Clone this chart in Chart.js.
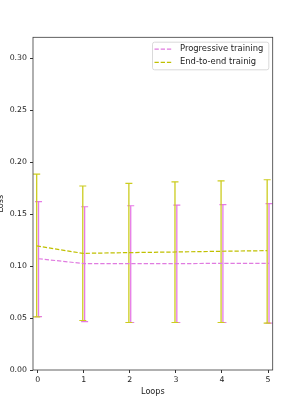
<!DOCTYPE html>
<html>
<head>
<meta charset="utf-8">
<script src="https://cdn.jsdelivr.net/npm/chart.js@4.4.1/dist/chart.umd.min.js"></script>
<style>
  html, body { margin: 0; padding: 0; background: #fff; }
  #wrap { width: 293px; height: 416px; }
</style>
</head>
<body>
<div id="wrap"><canvas id="chart" width="293" height="416"></canvas></div>
<script>
// ---------------- Data ----------------
const loops = [0, 1, 2, 3, 4, 5];
const progMean = [0.107, 0.1023, 0.1023, 0.1023, 0.1026, 0.1026];
const progLow  = [0.0514, 0.0466, 0.0457, 0.0457, 0.0457, 0.0451];
const progHigh = [0.162, 0.157, 0.158, 0.1586, 0.159, 0.160];
const e2eMean  = [0.1193, 0.1122, 0.1129, 0.1135, 0.1142, 0.1148];
const e2eLow   = [0.0511, 0.0476, 0.0457, 0.0457, 0.0457, 0.0451];
const e2eHigh  = [0.1884, 0.177, 0.1795, 0.181, 0.182, 0.183];
const yTicks = [0, 0.05, 0.1, 0.15, 0.2, 0.25, 0.3];
const seriesNames = ["Progressive training", "End-to-end trainig"];

const PINK = "#e07be0";
const PINK_BAR = "#e679e6";
const YEL = "#c0c000";
const YEL_BAR = "#cccc1e";
const FONT = "DejaVu Sans";
const FS = 7.8;       // tick labels
const FS_LABEL = 8.1; // axis titles
const FS_LEG = 8.4;   // legend

// each bar: low point, high point, then a gap
function errorBars(low, high, dx) {
  const pts = [];
  loops.forEach((x, i) => {
    pts.push({ x: x + dx, y: low[i] }, { x: x + dx, y: high[i] }, { x: x + dx, y: null });
  });
  return pts;
}

function meanLine(mean, dx) {
  return loops.map((x, i) => ({ x: x + dx, y: mean[i] }));
}

// ---------------- Frame, legend, axis titles ----------------
const decor = {
  id: "decor",
  afterDraw(chart) {
    const { ctx, chartArea: a } = chart;
    ctx.save();
    // frame
    ctx.strokeStyle = "#3a3a3a";
    ctx.lineWidth = 0.8;
    ctx.strokeRect(a.left, a.top, a.right - a.left, a.bottom - a.top);

    // legend box
    const bx = 152.5, by = 42.2, bw = 116.3, bh = 27.6;
    ctx.fillStyle = "rgba(255,255,255,0.8)";
    ctx.strokeStyle = "#d0d0d0";
    ctx.lineWidth = 0.8;
    ctx.beginPath();
    ctx.roundRect(bx, by, bw, bh, 2);
    ctx.fill();
    ctx.stroke();

    const colors = [PINK, YEL];
    ctx.font = `${FS_LEG}px "${FONT}"`;
    ctx.textBaseline = "middle";
    seriesNames.forEach((name, i) => {
      const yy = by + 6.9 + i * 13.2;
      ctx.strokeStyle = colors[i];
      ctx.lineWidth = 1.2;
      ctx.setLineDash([4.3, 1.9]);
      ctx.beginPath();
      ctx.moveTo(bx + 2, yy);
      ctx.lineTo(bx + 20, yy);
      ctx.stroke();
      ctx.setLineDash([]);
      ctx.fillStyle = "#222";
      ctx.textAlign = "left";
      ctx.fillText(name, bx + 27.5, yy);
    });

    // axis titles
    ctx.font = `${FS_LABEL}px "${FONT}"`;
    ctx.fillStyle = "#222";
    ctx.textAlign = "center";
    ctx.textBaseline = "middle";
    ctx.fillText("Loops", (a.left + a.right) / 2, 392.3);
    ctx.translate(1, (a.top + a.bottom) / 2);
    ctx.rotate(-Math.PI / 2);
    ctx.fillText("Loss", 0, 0);
    ctx.restore();
  }
};

// ---------------- Chart ----------------
const DX = 0.02;
new Chart(document.getElementById("chart"), {
  type: "scatter",
  data: {
    datasets: [
      {
        label: seriesNames[0] + " err",
        data: errorBars(progLow, progHigh, DX),
        showLine: true, spanGaps: false,
        borderColor: PINK_BAR, borderWidth: 1.3,
        pointStyle: "line", pointRadius: 3.5, pointBorderWidth: 1.2,
        pointBorderColor: PINK_BAR, order: 4
      },
      {
        label: seriesNames[1] + " err",
        data: errorBars(e2eLow, e2eHigh, -DX),
        showLine: true, spanGaps: false,
        borderColor: YEL_BAR, borderWidth: 1.3,
        pointStyle: "line", pointRadius: 3.5, pointBorderWidth: 1.2,
        pointBorderColor: YEL_BAR, order: 3
      },
      {
        label: seriesNames[0],
        data: meanLine(progMean, DX),
        showLine: true, borderColor: PINK, borderWidth: 1.2,
        borderDash: [4.3, 1.9], pointRadius: 0, order: 2
      },
      {
        label: seriesNames[1],
        data: meanLine(e2eMean, -DX),
        showLine: true, borderColor: YEL, borderWidth: 1.2,
        borderDash: [4.3, 1.9], pointRadius: 0, order: 1
      }
    ]
  },
  options: {
    responsive: false,
    animation: false,
    devicePixelRatio: 1,
    layout: { padding: { top: 37.3, right: 20.3, left: 0, bottom: 0 } },
    plugins: { legend: { display: false }, tooltip: { enabled: false } },
    scales: {
      x: {
        type: "linear", min: -0.1, max: 5.1,
        afterFit: s => { s.height = 46; },
        afterBuildTicks: s => { s.ticks = loops.map(v => ({ value: v })); },
        grid: { drawOnChartArea: false, drawTicks: true, tickLength: 3, color: "#333" },
        border: { display: false },
        ticks: { padding: 2, color: "#222", font: { family: FONT, size: FS }, maxRotation: 0 }
      },
      y: {
        min: 0, max: 0.32,
        afterFit: s => { s.width = 33; },
        afterBuildTicks: s => { s.ticks = yTicks.map(v => ({ value: v })); },
        grid: { drawOnChartArea: false, drawTicks: true, tickLength: 3, color: "#333" },
        border: { display: false },
        ticks: {
          padding: 3, color: "#222", font: { family: FONT, size: FS },
          callback: v => v.toFixed(2)
        }
      }
    }
  },
  plugins: [decor]
});
</script>
</body>
</html>
